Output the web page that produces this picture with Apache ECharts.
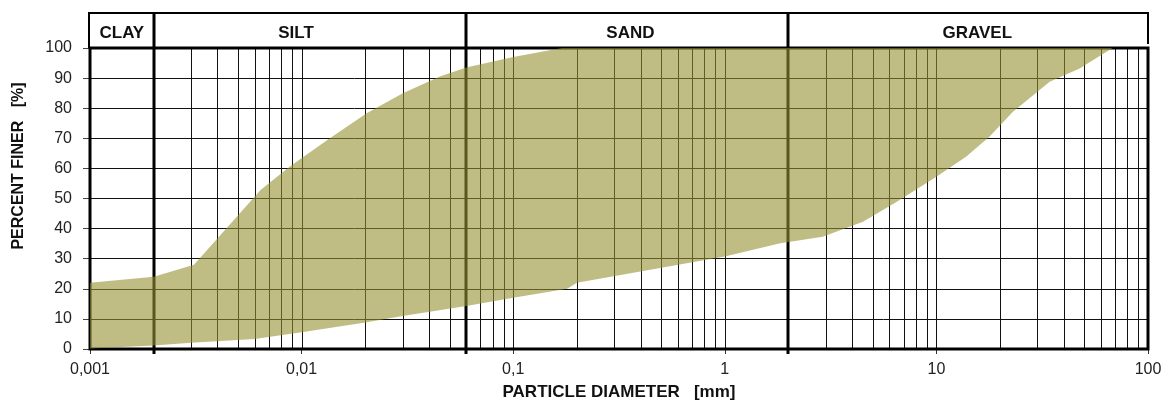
<!DOCTYPE html>
<html>
<head>
<meta charset="utf-8">
<script src="https://cdn.jsdelivr.net/npm/echarts@6/dist/echarts.min.js"></script>
<style>
html,body{margin:0;padding:0;background:#fff;}
#c{width:1169px;height:401px;}
</style>
</head>
<body>
<div id="c"></div>
<script>
// ---- data ----
const upperDiameter = [0.001, 0.002, 0.0031, 0.0064, 0.0088, 0.0136, 0.0203, 0.0301, 0.045, 0.06, 0.1, 0.17, 100];
const upperPercent  = [22, 24, 28, 52.8, 60.6, 70, 78.3, 85, 90.5, 93.5, 97, 100, 100];
const lowerDiameter = [0.001, 0.002, 0.003, 0.006, 0.01, 0.02, 0.03, 0.06, 0.1, 0.18, 0.2, 1, 1.83, 2.9, 4.5, 6.5, 10, 13.8, 17.8, 23, 34.3, 47.5, 68, 100];
const lowerPercent  = [0.2, 1.2, 2.1, 3.3, 5.6, 8.8, 11, 14.3, 17, 20, 22, 30.7, 35.1, 37.3, 42.3, 48.9, 57.2, 63.9, 70.5, 78.8, 88.8, 93.2, 100, 100];
const zoneNames  = ['CLAY', 'SILT', 'SAND', 'GRAVEL'];
const zoneLimits = [0.001, 0.002, 0.06, 2, 100];
const xTickLabels = ['0,001', '0,01', '0,1', '1', '10', '100'];
const yTickLabels = ['0', '10', '20', '30', '40', '50', '60', '70', '80', '90', '100'];
const xAxisTitle = 'PARTICLE DIAMETER   [mm]';
const yAxisTitle = 'PERCENT FINER   [%]';

// ---- styles ----
const FONT = '"Liberation Sans", Arial, sans-serif';
const labelShift = [0, -14, 3, 9];   // header label horizontal nudges (px)
const bandColor = 'rgba(148,145,48,0.6)';

// log grid values (1..9 x 10^k)
const gridValues = [];
for (let d = -3; d <= 1; d++) {
  for (let m = 1; m <= 9; m++) gridValues.push(Number((m * Math.pow(10, d)).toPrecision(6)));
}
gridValues.push(100);

const chart = echarts.init(document.getElementById('c'), null, {renderer: 'canvas'});

function renderGrid(params, api) {
  const p0 = api.coord([api.value(0), 0]);
  const p1 = api.coord([api.value(0), 100]);
  const x = Math.round(p0[0]) + 0.5;
  return {type: 'line', shape: {x1: x, y1: p0[1], x2: x, y2: p1[1]}, style: {stroke: '#111', lineWidth: 1}};
}

function renderBand(params, api) {
  const pts = [];
  for (let i = 0; i < upperDiameter.length; i++) pts.push(api.coord([upperDiameter[i], upperPercent[i]]));
  for (let i = lowerDiameter.length - 1; i >= 0; i--) pts.push(api.coord([lowerDiameter[i], lowerPercent[i]]));
  return {type: 'polygon', shape: {points: pts}, style: {fill: bandColor}};
}

function renderFrame(params, api) {
  const pL = api.coord([zoneLimits[0], 0]);
  const pR = api.coord([zoneLimits[zoneLimits.length - 1], 100]);
  const x0 = Math.round(pL[0]), yBot = Math.round(pL[1]);
  const x1 = Math.round(pR[0]), yTop = Math.round(pR[1]);
  const hTop = yTop - 35;
  const children = [];
  children.push({type: 'rect', shape: {x: x0, y: yTop, width: x1 - x0, height: yBot - yTop}, style: {fill: null, stroke: '#000', lineWidth: 3}});
  children.push({type: 'polyline', shape: {points: [[x0 - 1, yTop], [x0 - 1, hTop], [x1, hTop], [x1, yTop - 4]]}, style: {fill: null, stroke: '#000', lineWidth: 2}});
  zoneLimits.slice(1, -1).forEach(function (v) {
    const x = Math.round(api.coord([v, 0])[0]);
    children.push({type: 'line', shape: {x1: x, y1: hTop, x2: x, y2: yBot + 5}, style: {stroke: '#000', lineWidth: 3}});
  });
  zoneNames.forEach(function (n, i) {
    const a = api.coord([zoneLimits[i], 0])[0];
    const b = api.coord([zoneLimits[i + 1], 0])[0];
    children.push({type: 'text', x: (a + b) / 2 + labelShift[i], y: hTop + 20,
      style: {text: n, font: 'bold 17px ' + FONT, fill: '#111', align: 'center', verticalAlign: 'middle', textAlign: 'center', textVerticalAlign: 'middle'}});
  });
  return {type: 'group', children: children};
}

chart.setOption({
  animation: false,
  backgroundColor: '#fff',
  grid: {left: 90, right: 21, top: 48, bottom: 52, containLabel: false, outerBoundsMode: 'none'},
  xAxis: {
    type: 'log', logBase: 10, min: 0.001, max: 100,
    name: xAxisTitle, nameLocation: 'middle', nameGap: 35,
    nameTextStyle: {fontFamily: FONT, fontWeight: 'bold', fontSize: 17, color: '#111'},
    axisLine: {show: false},
    axisTick: {show: true, length: 5, lineStyle: {color: '#333'}},
    axisLabel: {fontFamily: FONT, fontSize: 16, color: '#222', margin: 13,
      formatter: function (v) { return xTickLabels[Math.round(Math.log10(v)) + 3]; }},
    splitLine: {show: false},
    minorTick: {show: false}
  },
  yAxis: {
    type: 'value', min: 0, max: 100, interval: 10,
    axisLine: {show: false},
    axisTick: {show: true, length: 7, lineStyle: {color: '#444'}},
    axisLabel: {fontFamily: FONT, fontSize: 16, color: '#222', margin: 18,
      formatter: function (v) { return yTickLabels[Math.round(v / 10)]; }},
    splitLine: {show: true, lineStyle: {color: '#111', width: 1}}
  },
  graphic: [{
    type: 'text', x: 19, y: 166, rotation: Math.PI / 2,
    style: {text: yAxisTitle, font: 'bold 16px ' + FONT, fill: '#111', align: 'center', verticalAlign: 'middle', textAlign: 'center', textVerticalAlign: 'middle'}
  }],
  series: [
    {type: 'custom', name: 'grid', z: 1, silent: true, clip: false, renderItem: renderGrid,
     data: gridValues.map(function (v) { return [v, 0]; })},
    {type: 'custom', name: 'frame', z: 1, silent: true, clip: false, renderItem: renderFrame, data: [[0.01, 50]]},
    {type: 'custom', name: 'band', z: 3, silent: true, clip: false, renderItem: renderBand, data: [[0.01, 50]]}
  ]
});
</script>
</body>
</html>
